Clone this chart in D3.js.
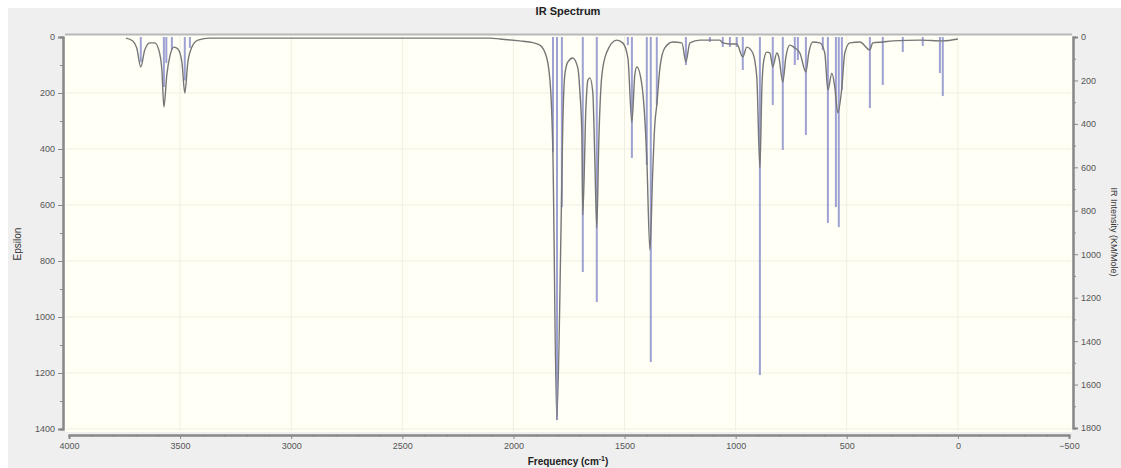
<!DOCTYPE html>
<html>
<head>
  <meta charset="utf-8">
  <title>IR Spectrum</title>
  <script src="https://d3js.org/d3.v7.min.js"></script>
  <style>
    body { margin: 0; background: #fff; }
    text { font-family: "Liberation Sans", Arial, sans-serif; }
    .tick text { font-size: 9px; fill: #555; }
    .axis path, .axis line { stroke: #888; }
    .grid line { stroke: #f0efe2; }
    .envelope { fill: none; stroke: #767676; stroke-width: 1.4px; }
    .stick { stroke: #6a6fc0; stroke-width: 2px; stroke-opacity: 0.65; }
  </style>
</head>
<body>
  <svg width="1121" height="468"></svg>
  <script>
    // broadened spectrum (frequency cm-1, epsilon)
    const envFreq = [3744, 3713, 3695, 3677, 3659, 3636, 3614, 3596, 3582, 3573, 3560, 3546, 3528, 3510, 3492, 3479, 3465, 3447, 3420, 3366,
      2736, 2106, 2061, 1971, 1926, 1881, 1850, 1832, 1823, 1805, 1786, 1778, 1769, 1755, 1733, 1710, 1701, 1692, 1688, 1674,
      1665, 1656, 1643, 1634, 1625, 1616, 1602, 1580, 1535, 1508, 1485, 1467, 1454, 1445, 1422, 1400, 1386, 1373, 1364, 1355,
      1341, 1319, 1283, 1242, 1224, 1206, 1161, 1071, 1058, 1026, 995, 968, 950, 923, 905, 891, 882, 873, 860, 846,
      833, 815, 806, 788, 774, 756, 734, 711, 684, 671, 653, 621, 599, 585, 567, 554, 540, 522, 509, 486,
      441, 396, 383, 338, 293, 171, 68, 0];
    const envEps = [4, 14, 39, 107, 46, 21, 21, 46, 118, 250, 136, 68, 36, 43, 89, 200, 89, 36, 11, 4,
      4, 4, 7, 14, 18, 29, 75, 196, 396, 1368, 689, 314, 136, 89, 75, 111, 196, 350, 636, 254,
      154, 146, 196, 432, 682, 375, 136, 54, 11, 21, 75, 304, 136, 107, 171, 432, 761, 475, 314, 243,
      111, 39, 18, 21, 89, 21, 11, 11, 21, 25, 25, 71, 36, 57, 143, 468, 179, 82, 54, 57,
      107, 57, 71, 161, 71, 29, 39, 57, 125, 57, 18, 21, 57, 189, 129, 179, 271, 179, 57, 21,
      18, 46, 21, 18, 14, 11, 14, 7];

    // computed modes (frequency cm-1, IR intensity KM/Mole)
    const stickFreq = [3677, 3573, 3562, 3537, 3479, 3456,
      1822, 1804, 1782, 1688, 1625, 1485, 1467, 1400, 1382, 1355, 1224,
      1116, 1058, 1026, 995, 968, 891, 833, 788, 734, 720, 684, 608, 585, 549, 536, 522,
      396, 338, 248, 158, 81, 68];
    const stickInt = [115, 230, 120, 60, 200, 50,
      530, 1763, 783, 1082, 1220, 37, 557, 589, 1496, 313, 129,
      23, 46, 46, 46, 152, 1556, 313, 520, 129, 106, 451, 60, 856, 783, 875, 244,
      327, 221, 69, 41, 166, 272];

    const xTicks = [4000, 3500, 3000, 2500, 2000, 1500, 1000, 500, 0, -500];
    const epsTicks = [0, 200, 400, 600, 800, 1000, 1200, 1400];
    const intTicks = [0, 200, 400, 600, 800, 1000, 1200, 1400, 1600, 1800];

    const svg = d3.select("svg");

    // outer panel
    svg.append("rect").attr("x", 8).attr("y", 8).attr("width", 1113).attr("height", 460).attr("fill", "#efefef");

    const x = d3.scaleLinear().domain([4000, -500]).range([69, 1069]);
    const yL = d3.scaleLinear().domain([0, 1400]).range([37, 429]);
    const yR = d3.scaleLinear().domain([0, 1800]).range([37, 428]);

    // plot area
    svg.append("rect").attr("x", 65).attr("y", 34).attr("width", 1007).attr("height", 398)
      .attr("fill", "#fffff6");
    svg.append("line").attr("x1", 65).attr("x2", 1072).attr("y1", 34.5).attr("y2", 34.5)
      .attr("stroke", "#b8b8b8").attr("stroke-width", 2);

    // grid
    const grid = svg.append("g").attr("class", "grid");
    grid.selectAll(".v").data(xTicks.slice(1, -1)).enter().append("line")
      .attr("x1", d => x(d)).attr("x2", d => x(d)).attr("y1", 36).attr("y2", 431);
    grid.selectAll(".h").data(epsTicks.slice(1)).enter().append("line")
      .attr("x1", 66).attr("x2", 1071).attr("y1", d => yL(d)).attr("y2", d => yL(d));

    // sticks
    const sticks = stickFreq.map((f, i) => ({f: f, v: stickInt[i]}));
    svg.append("g").selectAll("line").data(sticks).enter().append("line")
      .attr("class", "stick")
      .attr("x1", d => x(d.f)).attr("x2", d => x(d.f))
      .attr("y1", yR(0)).attr("y2", d => yR(d.v));

    // envelope
    const env = envFreq.map((f, i) => ({f: f, v: envEps[i]}));
    svg.append("path").datum(env).attr("class", "envelope")
      .attr("d", d3.line().x(d => x(d.f)).y(d => yL(d.v)).curve(d3.curveMonotoneX));

    // axes
    svg.append("g").attr("class", "axis").attr("transform", "translate(63,0)")
      .call(d3.axisLeft(yL).tickValues(epsTicks).tickSize(5).tickPadding(3).tickFormat(d3.format("d")));
    svg.append("g").attr("class", "axis").attr("transform", "translate(63,0)")
      .call(d3.axisLeft(yL).tickValues(d3.range(100, 1400, 200)).tickSize(3).tickFormat(""));

    svg.append("g").attr("class", "axis").attr("transform", "translate(1073,0)")
      .call(d3.axisRight(yR).tickValues(intTicks).tickSize(5).tickPadding(3).tickFormat(d3.format("d")));
    svg.append("g").attr("class", "axis").attr("transform", "translate(1073,0)")
      .call(d3.axisRight(yR).tickValues(d3.range(100, 1800, 200)).tickSize(3).tickFormat(""));

    svg.append("g").attr("class", "axis").attr("transform", "translate(0,435)")
      .call(d3.axisBottom(x).tickValues(xTicks).tickSize(4).tickPadding(4).tickFormat(d3.format("d")));
    svg.append("g").attr("class", "axis").attr("transform", "translate(0,435)")
      .call(d3.axisBottom(x).tickValues(d3.range(3900, -500, -100).filter(d => d % 500 !== 0)).tickSize(2).tickFormat(""));

    svg.selectAll(".axis path").attr("stroke-width", 2);

    // titles
    svg.append("text").attr("x", 568).attr("y", 15).attr("text-anchor", "middle")
      .attr("font-size", 11).attr("font-weight", "bold").attr("fill", "#222").text("IR Spectrum");
    svg.append("text").attr("x", 568).attr("y", 465).attr("text-anchor", "middle")
      .attr("font-size", 10).attr("font-weight", "bold").attr("fill", "#222")
      .text("Frequency (cm")
      .append("tspan").attr("dy", -4).attr("font-size", 7).text("-1")
      .select(function() { return this.parentNode; })
      .append("tspan").attr("dy", 4).text(")");
    svg.append("text").attr("transform", "translate(21,244) rotate(-90)").attr("text-anchor", "middle")
      .attr("font-size", 10).attr("fill", "#333").text("Epsilon");
    svg.append("text").attr("transform", "translate(1111,232) rotate(90)").attr("text-anchor", "middle")
      .attr("font-size", 9).attr("fill", "#333").text("IR Intensity (KM/Mole)");
  </script>
</body>
</html>
